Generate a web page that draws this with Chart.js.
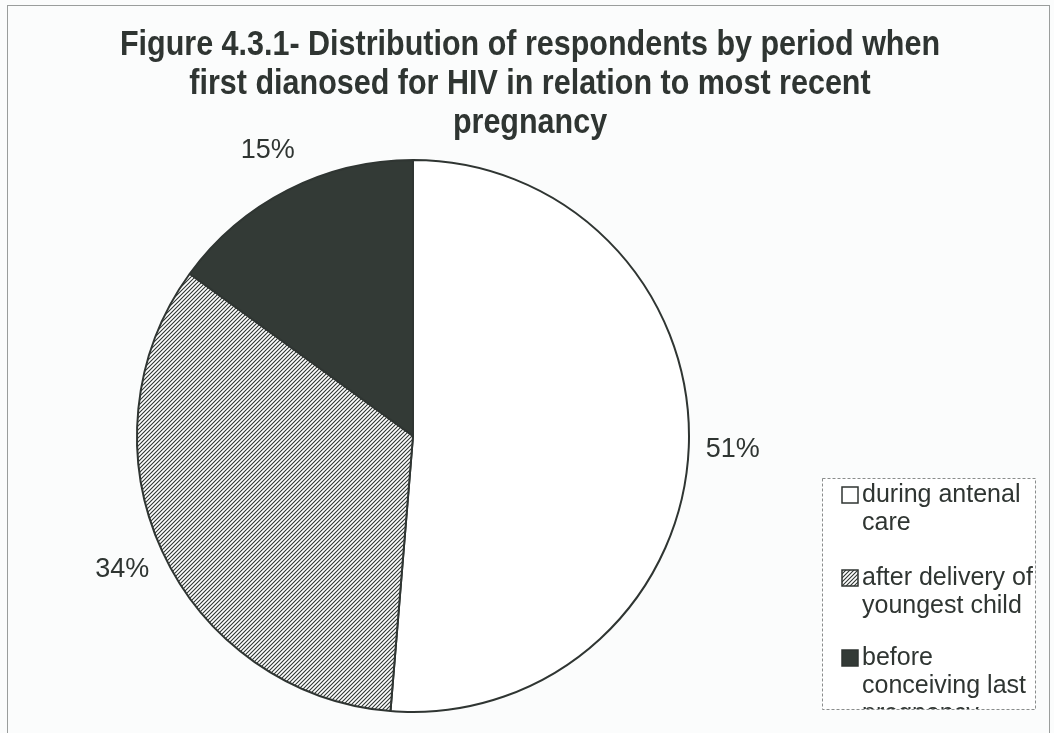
<!DOCTYPE html>
<html lang="en">
<head>
    <meta charset="UTF-8">
    <title>Figure 4.3.1</title>
    <script src="https://cdn.jsdelivr.net/npm/chart.js"></script>
    <style>
        html, body { margin: 0; padding: 0; background: #fbfcfc; }
        #chart { display: block; }
    </style>
</head>
<body>
    <canvas id="chart" width="1054" height="733"></canvas>

    <script>
        const labels = ['during antenal care', 'after delivery of youngest child', 'before conceiving last pregnancy'];
        const values = [51.3, 33.7, 15];
        const valueLabels = ['51%', '34%', '15%'];
        const legendLines = [['during antenal', 'care'], ['after delivery of', 'youngest child'], ['before', 'conceiving last', 'pregnancy']];
        const titleLines = ['Figure 4.3.1- Distribution of respondents by period when', 'first dianosed for HIV in relation to most recent', 'pregnancy'];

        const ink = '#2f3532';

        // diagonal hatching for the middle slice
        function makeHatch() {
            const c = document.createElement('canvas');
            c.width = 4; c.height = 4;
            const g = c.getContext('2d');
            g.fillStyle = '#ffffff';
            g.fillRect(0, 0, 4, 4);
            g.strokeStyle = ink;
            g.lineWidth = 1.1;
            g.beginPath();
            g.moveTo(-1, 5); g.lineTo(5, -1);
            g.moveTo(-1, 1); g.lineTo(1, -1);
            g.moveTo(3, 5); g.lineTo(5, 3);
            g.stroke();
            return g.createPattern(c, 'repeat');
        }
        const ctx = document.getElementById('chart').getContext('2d');
        const hatch = makeHatch();
        const fills = ['#ffffff', hatch, '#333a36'];

        const decor = {
            id: 'decor',
            beforeDraw(chart) {
                const g = chart.ctx;
                g.save();
                g.fillStyle = '#fbfcfc';
                g.fillRect(0, 0, chart.width, chart.height);
                // outer frame of the figure
                g.strokeStyle = '#9a9d9c';
                g.lineWidth = 1;
                g.strokeRect(7.5, 5.5, 1042, 740);
                g.restore();
            },
            afterDraw(chart) {
                const g = chart.ctx;
                g.save();
                // title (the scan has a tall, narrow bold face)
                g.fillStyle = ink;
                g.textAlign = 'center';
                g.textBaseline = 'middle';
                g.font = 'bold 30.5px "Liberation Sans", Arial, sans-serif';
                titleLines.forEach((t, i) => {
                    g.save();
                    g.translate(530, 46 + i * 39);
                    g.scale(1, 1.12);
                    g.fillText(t, 0, 0);
                    g.restore();
                });

                // value labels outside the slices
                const arcs = chart.getDatasetMeta(0).data;
                g.font = '27px "Liberation Sans", Arial, sans-serif';
                arcs.forEach((a, i) => {
                    const p = a.getProps(['x', 'y', 'startAngle', 'endAngle', 'outerRadius'], true);
                    const mid = (p.startAngle + p.endAngle) / 2;
                    const r = p.outerRadius + 44;
                    g.fillText(valueLabels[i], p.x + Math.cos(mid) * r, p.y + Math.sin(mid) * r);
                });

                // legend box (clipped like the original)
                const bx = 822, by = 478, bw = 213, bh = 231;
                g.beginPath();
                g.rect(bx, by, bw, bh);
                g.fillStyle = '#ffffff';
                g.fill();
                g.save();
                g.clip();
                g.textAlign = 'left';
                g.font = '25px "Liberation Sans", Arial, sans-serif';
                const starts = [495, 578, 658];
                legendLines.forEach((lines, i) => {
                    const y0 = starts[i];
                    g.fillStyle = fills[i];
                    g.fillRect(842, y0 - 8, 16, 16);
                    g.strokeStyle = ink;
                    g.lineWidth = 1.5;
                    g.strokeRect(842, y0 - 8, 16, 16);
                    g.fillStyle = ink;
                    lines.forEach((t, j) => g.fillText(t, 862, y0 + j * 28));
                });
                g.restore();
                g.strokeStyle = '#8a8d8c';
                g.lineWidth = 1;
                g.setLineDash([3, 2]);
                g.strokeRect(bx + 0.5, by + 0.5, bw, bh);
                g.restore();
            }
        };

        new Chart(ctx, {
            type: 'pie',
            data: {
                labels: labels,
                datasets: [{
                    data: values,
                    backgroundColor: fills,
                    borderColor: ink,
                    borderWidth: 2,
                    borderAlign: 'center'
                }]
            },
            options: {
                responsive: false,
                animation: false,
                layout: { padding: { left: 136, right: 364, top: 158, bottom: 19 } },
                plugins: {
                    legend: { display: false },
                    title: { display: false },
                    tooltip: { enabled: false }
                }
            },
            plugins: [decor]
        });
    </script>
</body>
</html>
